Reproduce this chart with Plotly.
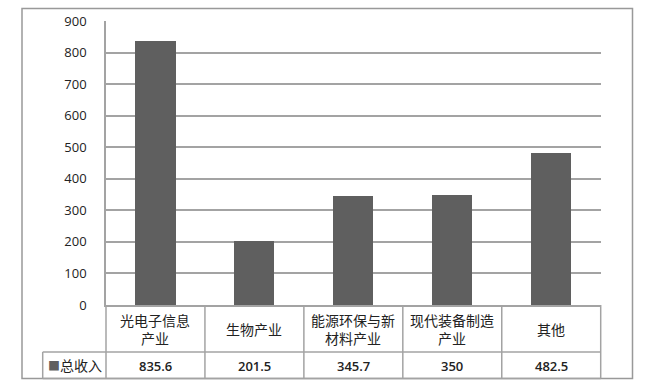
import plotly.graph_objects as go

categories = ["光电子信息<br>产业", "生物产业", "能源环保与新<br>材料产业", "现代装备制造<br>产业", "其他"]
values = [835.6, 201.5, 345.7, 350, 482.5]
value_labels = ["835.6", "201.5", "345.7", "350", "482.5"]
series_name = "总收入"
y_ticks = [0, 100, 200, 300, 400, 500, 600, 700, 800, 900]

W, H = 655, 389
def px(x):
    return x / W
def py(y):
    return 1 - y / H

BAR = "#5f5f5f"
LINE = "#a3a3a3"
TXT = "#222222"
FONT = "Open Sans, Noto Sans CJK SC, sans-serif"
CJK = "Noto Sans CJK SC, sans-serif"

xs = list(range(len(categories)))

fig = go.Figure(go.Bar(x=xs, y=values, marker=dict(color=BAR, line=dict(width=0)),
                       width=0.405, name=series_name, showlegend=False))

plot_left, plot_right, plot_top, plot_bottom = 106, 600.7, 21, 305
row1_bottom, row2_bottom = 352, 378.5

fig.update_layout(
    width=W, height=H, margin=dict(l=0, r=0, t=0, b=0, pad=0, autoexpand=False),
    autosize=False,
    paper_bgcolor="white", plot_bgcolor="white",
    xaxis=dict(domain=[px(plot_left), px(plot_right)], range=[-0.5, len(categories) - 0.5],
               showticklabels=False, showgrid=False, zeroline=False, automargin=False,
               showline=True, linecolor=LINE, linewidth=1.5, ticks=""),
    yaxis=dict(domain=[py(plot_bottom), py(plot_top)], range=[0, 900], tickvals=y_ticks,
               showgrid=True, gridcolor=LINE, gridwidth=1.5, zeroline=False, automargin=False,
               showline=True, linecolor=LINE, linewidth=1.5, ticks="",
               ticklabelstandoff=15,
               tickfont=dict(family=FONT, size=13, color=TXT)),
    bargap=0,
)

shapes = []
line = dict(color=LINE, width=1.5)
# outer chart border
shapes.append(dict(type="rect", xref="paper", yref="paper", x0=px(22), x1=px(632.5),
                   y0=py(row2_bottom), y1=py(8.5), line=dict(color="#999999", width=1.5)))
# data table vertical separators (category boundaries)
for i in range(1, len(categories)):
    shapes.append(dict(type="line", xref="x", yref="paper", x0=i - 0.5, x1=i - 0.5,
                       y0=py(row2_bottom), y1=py(plot_bottom), line=line))
for xd in (0, 1):
    shapes.append(dict(type="line", xref="x domain", yref="paper", x0=xd, x1=xd,
                       y0=py(row2_bottom), y1=py(plot_bottom), line=line))
# legend cell left edge
shapes.append(dict(type="line", xref="paper", yref="paper", x0=px(42.7), x1=px(42.7),
                   y0=py(row2_bottom), y1=py(row1_bottom), line=line))
# horizontal table lines
for yy in (row1_bottom, row2_bottom):
    shapes.append(dict(type="line", xref="paper", yref="paper", x0=px(42.7), x1=px(plot_right),
                       y0=py(yy), y1=py(yy), line=line))
fig.update_layout(shapes=shapes)

annotations = []
for i, c in enumerate(categories):
    annotations.append(dict(x=i, xref="x", y=py((plot_bottom + row1_bottom) / 2), yref="paper",
                            text=c, showarrow=False, xanchor="center", yanchor="middle",
                            font=dict(family=CJK, size=14, color=TXT)))
    annotations.append(dict(x=i, xref="x", y=py((row1_bottom + row2_bottom) / 2 + 0.5), yref="paper",
                            text=value_labels[i], showarrow=False, xanchor="center", yanchor="middle",
                            font=dict(family=FONT, size=13, color=TXT, weight=600)))
annotations.append(dict(x=px(45.5), xref="paper", y=py((row1_bottom + row2_bottom) / 2), yref="paper",
                        text=f'<span style="color:{BAR};font-size:12px">■</span>{series_name}',
                        showarrow=False, xanchor="left", yanchor="middle",
                        font=dict(family=CJK, size=14, color=TXT)))
fig.update_layout(annotations=annotations)

fig.write_html("out.html")
